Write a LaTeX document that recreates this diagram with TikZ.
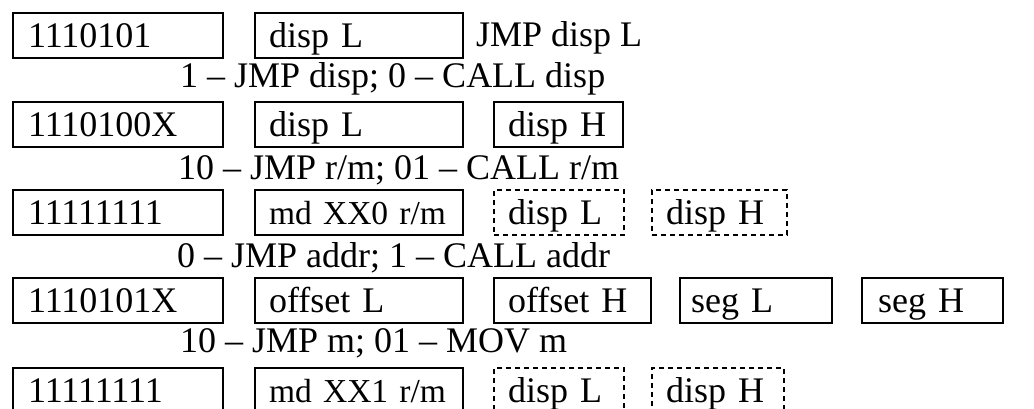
\documentclass[tikz,border=0pt]{standalone}
\usepackage{fontspec}
\setmainfont{Liberation Serif}
\begin{document}
\begin{tikzpicture}[x=1pt,y=1pt,
  box/.style={draw, line width=2.2pt, inner xsep=14pt, inner ysep=0pt,
    minimum height=45pt, text height=28pt, text depth=3.6pt, align=left,
    anchor=north west, font=\fontsize{36}{40}\selectfont},
  dbox/.style={box, dash pattern=on 5pt off 4pt, line width=2pt},
  small/.style={font=\fontsize{33.5}{38}\selectfont},
  lbl/.style={anchor=base west, inner sep=0pt, font=\fontsize{36}{40}\selectfont}]
\clip (0,0) rectangle (1034,-408);
% row 1
\node[box, text width=180pt, inner xsep=15pt] (r1a) at (12,-12) {1110101};
\node[box, text width=180pt] (r1b) at (254,-12) {disp L};
\node[lbl] (r1t) at (476,-46.7) {JMP disp L};
\node[lbl] (l1) at (180,-87) {1 – JMP disp; 0 – CALL disp};
% row 2
\node[box, text width=180pt, inner xsep=15pt] (r2a) at (12,-101) {1110100X};
\node[box, text width=180pt] (r2b) at (254,-101) {disp L};
\node[box, text width=101pt] (r2c) at (493,-101) {disp H};
\node[lbl] (l2) at (178,-179) {10 – JMP r/m; 01 – CALL r/m};
% row 3
\node[box, text width=180pt, inner xsep=15pt] (r3a) at (12,-189) {11111111};
\node[box, text width=180pt, small] (r3b) at (254,-189) {\mbox{md XX0 r/m}};
\node[dbox, text width=102pt] (r3c) at (493,-189) {disp L};
\node[dbox, text width=107pt] (r3d) at (651,-189) {disp H};
\node[lbl] (l3) at (177,-267) {0 – JMP addr; 1 – CALL addr};
% row 4
\node[box, text width=180pt, inner xsep=15pt] (r4a) at (12,-277) {1110101X};
\node[box, text width=180pt] (r4b) at (254,-277) {offset L};
\node[box, text width=129pt] (r4c) at (493,-277) {offset H};
\node[box, text width=130pt, inner xsep=11pt] (r4d) at (679,-277) {seg L};
\node[box, text width=109pt, inner xsep=16pt] (r4e) at (861,-277) {seg H};
\node[lbl] (l4) at (180,-352) {10 – JMP m; 01 – MOV m};
% row 5
\node[box, text width=180pt, inner xsep=15pt] (r5a) at (12,-367) {11111111};
\node[box, text width=180pt, small] (r5b) at (254,-367) {\mbox{md XX1 r/m}};
\node[dbox, text width=102pt] (r5c) at (493,-367) {disp L};
\node[dbox, text width=104pt] (r5d) at (651,-367) {disp H};
\end{tikzpicture}
\end{document}
